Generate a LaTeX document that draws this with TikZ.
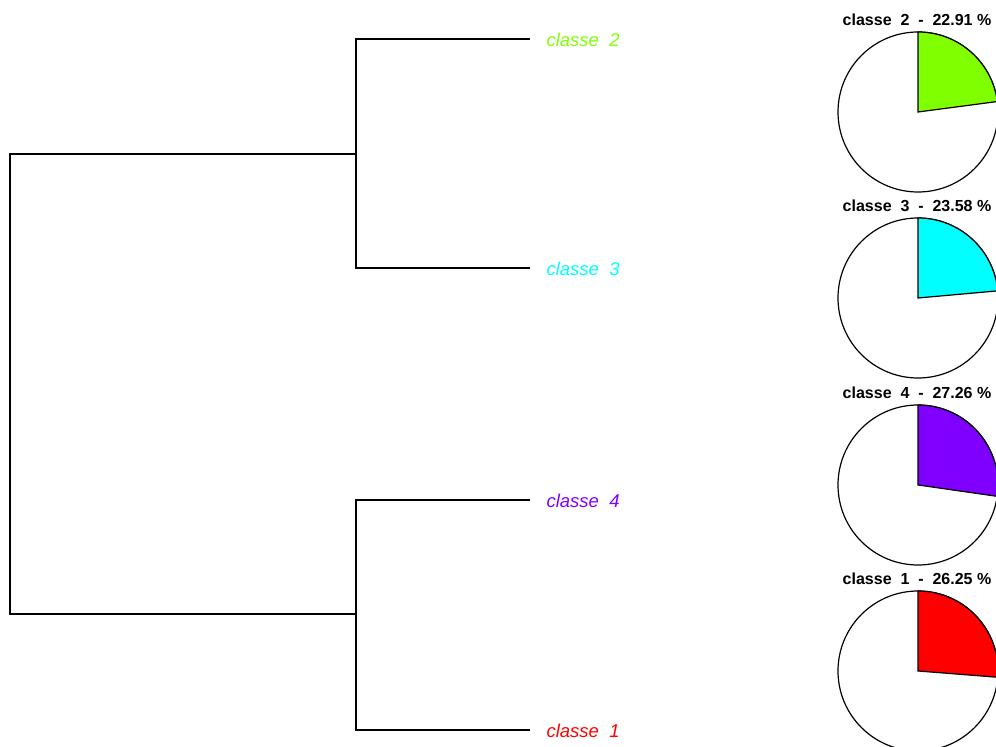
\documentclass[tikz,border=0pt]{standalone}
\usepackage{fontspec}
\setmainfont{Liberation Sans}
\definecolor{classeRed}{HTML}{FF0000}
\definecolor{classeGreen}{HTML}{80FF00}
\definecolor{classeCyan}{HTML}{00FFFF}
\definecolor{classeViolet}{HTML}{8000FF}
\begin{document}
\begin{tikzpicture}[x=1pt,y=1pt,line width=1.2pt,
  leaf/.style={anchor=west,inner sep=0pt,font=\itshape\fontsize{18.5}{22}\selectfont},
  pietitle/.style={anchor=base,inner sep=0pt,font=\bfseries\fontsize{16}{19}\selectfont}]
  \useasboundingbox (0,0) rectangle (996,747);
  \clip (0,0) rectangle (996,747);

  % dendrogram
  \coordinate (e2) at (530,708);
  \coordinate (e3) at (530,479);
  \coordinate (e4) at (530,247);
  \coordinate (e1) at (530,17);
  \coordinate (m23) at (356,593);
  \coordinate (m41) at (356,133);
  \coordinate (root) at (10,363);
  \draw (e2) -| (m23) |- (e3);
  \draw (e4) -| (m41) |- (e1);
  \draw (m23) -| (root) |- (m41);

  \node[leaf,text=classeGreen] (l2) at (546,707) {classe\ \ 2};
  \node[leaf,text=classeCyan] (l3) at (546,478) {classe\ \ 3};
  \node[leaf,text=classeViolet] (l4) at (546,246) {classe\ \ 4};
  \node[leaf,text=classeRed] (l1) at (546,16) {classe\ \ 1};

  % pies
  \foreach \n/\cy/\pct/\ang/\col in {2/635/22.91/7.52/classeGreen,
      3/449/23.58/5.11/classeCyan, 4/262/27.26/-8.14/classeViolet,
      1/76/26.25/-4.50/classeRed} {
    \coordinate (p\n) at (918,\cy);
    \draw[fill=white] (p\n) circle[radius=80pt];
    \draw[fill=\col] (p\n) -- ++(0,80) arc[start angle=90,end angle=\ang,radius=80pt] -- cycle;
    \node[pietitle] (t\n) at (917,\cy+86) {classe\ \ \n\ \ -\ \ \pct\ \%};
  }
\end{tikzpicture}
\end{document}
